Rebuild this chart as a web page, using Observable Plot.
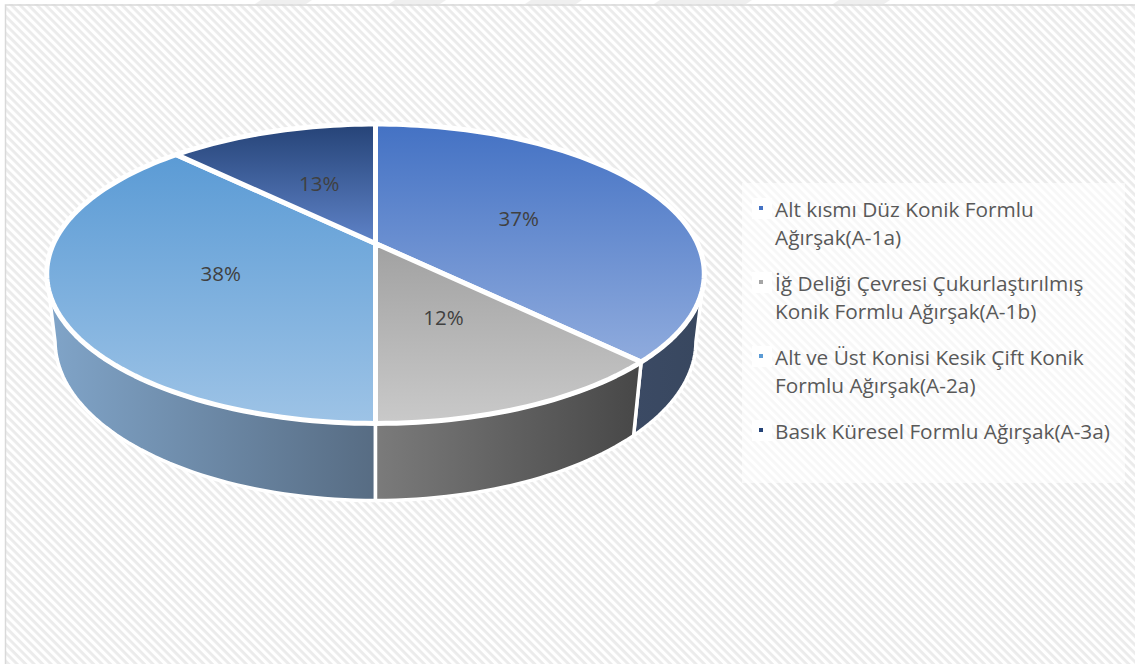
<!DOCTYPE html>
<html lang="tr">
<head>
<meta charset="utf-8">
<script src="https://cdn.jsdelivr.net/npm/d3@7"></script>
<script src="https://cdn.jsdelivr.net/npm/@observablehq/plot@0.6"></script>
<style>
  html, body { margin: 0; padding: 0; background: #fff; }
  #wrap { position: relative; width: 1135px; height: 664px; overflow: hidden; }
  #wrap svg { display: block; max-width: none; }
  #legend { position: absolute; left: 742px; top: 183px; width: 383px; height: 300px; box-sizing: border-box;
    padding: 12px 0 0 33px; background: rgba(255,255,255,0.6);
    font: 20.8px/28px "Open Sans", sans-serif; color: #595959; }
  #legend .item { position: relative; width: 345px; margin-bottom: 18px; }
  #legend .sw { position: absolute; left: -23px; top: 3px; width: 20px; height: 21px; background: #fff; }
  #legend .sw i { position: absolute; left: 7px; top: 8px; width: 4px; height: 4px; }
</style>
</head>
<body>
<div id="wrap"></div>
<script>
// Data
const categories = [
  "Alt kısmı Düz Konik Formlu Ağırşak(A-1a)",
  "İğ Deliği Çevresi Çukurlaştırılmış Konik Formlu Ağırşak(A-1b)",
  "Alt ve Üst Konisi Kesik Çift Konik Formlu Ağırşak(A-2a)",
  "Basık Küresel Formlu Ağırşak(A-3a)"
];
const shares = [37.5, 12.5, 37.5, 12.5];
const percentLabels = ["37%", "12%", "38%", "13%"];
const legendColors = ["#4472c4", "#a5a5a5", "#5b9bd5", "#264478"];

// Style: vertical gradients for the top faces, horizontal for the walls
const topGradients = [
  ["#4472c4", "#8fabdd", 125, 360],
  ["#a1a1a1", "#c9c9c9", 243, 421],
  ["#5b9bd5", "#9dc3e6", 155, 421],
  ["#264478", "#5f83c8", 125, 243]
];
const wallGradients = [
  ["#3b4a64", "#38475f", 635, 700],
  ["#7b7b7b", "#484848", 375, 635],
  ["#80a4c8", "#576c83", 50, 375],
  ["#264478", "#264478", 0, 1]
];

// Perspective of the 3D disc
const tilt = 0.202, depthShrink = 0.025, depthDrop = 0.473;
function project(fraction, radius, h) {
  const a = fraction * 2 * Math.PI;
  const u = radius * Math.sin(a), v = -radius * Math.cos(a);
  const d = 1 - tilt * v + depthShrink * h;
  return {x: u / d, y: (v + depthDrop * h) / d};
}

const total = d3.sum(shares);
const cum = d3.cumsum(shares);
const slices = shares.map((s, i) => ({i, start: (cum[i] - s) / total, end: cum[i] / total}));
function arc(start, end, h) {
  const n = Math.max(8, Math.round((end - start) * 240));
  return d3.range(n + 1).map(j => project(start + (end - start) * j / n, 1, h));
}
function topFace(s) {
  const c = project(0, 0, 0), pts = arc(s.start, s.end, 0);
  return [c, ...pts, c];
}
// The wall is only seen between the two silhouette angles of the disc
const rimFrom = 0.25 + Math.asin(tilt) / (2 * Math.PI), rimTo = 1 - rimFrom;
function wallFace(s) {
  const start = Math.max(s.start, rimFrom), end = Math.min(s.end, rimTo);
  if (end <= start) return [];
  const a = arc(start, end, 0), b = arc(start, end, 1).reverse();
  return [...a, ...b, a[0]];
}

function background(index, scales, values, dims) {
  const g = d3.create("svg:g");
  const defs = g.append("defs");
  const p = defs.append("pattern").attr("id", "hatch").attr("patternUnits", "userSpaceOnUse")
    .attr("width", 6).attr("height", 6).attr("patternTransform", "rotate(45)");
  p.append("rect").attr("width", 6).attr("height", 6).attr("fill", "#fff");
  p.append("rect").attr("width", 6).attr("height", 2.8).attr("fill", "#ebebeb");
  const grad = (id, [c0, c1, a, b], vertical) => {
    const l = defs.append("linearGradient").attr("id", id).attr("gradientUnits", "userSpaceOnUse")
      .attr("x1", vertical ? 0 : a).attr("x2", vertical ? 0 : b)
      .attr("y1", vertical ? a : 0).attr("y2", vertical ? b : 0);
    l.append("stop").attr("offset", 0).attr("stop-color", c0);
    l.append("stop").attr("offset", 1).attr("stop-color", c1);
  };
  topGradients.forEach((t, i) => grad("top" + i, t, true));
  wallGradients.forEach((t, i) => grad("wall" + i, t, false));
  // faint page residue above the chart area
  for (const [a, b] of [[258, 309], [392, 443], [528, 579], [657, 749], [836, 887]]) {
    g.append("path").attr("d", `M${a + 3},0H${b + 3}L${b - 3},4H${a - 3}Z`).attr("fill", "#efefef");
  }
  g.append("rect").attr("x", 5).attr("y", 4).attr("width", dims.width).attr("height", dims.height).attr("fill", "url(#hatch)");
  g.append("path").attr("d", `M5.5,${dims.height}V5H${dims.width}`).attr("fill", "none").attr("stroke", "#d9d9d9").attr("stroke-width", 1.5);
  return g.node();
}

const faceStyle = {x: "x", y: "y", stroke: "#fff", strokeLinejoin: "round"};
const wallOrder = [0, 2, 1];

const chart = Plot.plot({
  width: 1135,
  height: 664,
  margin: 0,
  style: {background: "#fff", fontFamily: "'Open Sans', sans-serif"},
  x: {domain: [-1, 1], range: [53, 697], axis: null},
  y: {domain: [-1, 1], range: [99.4, 386.6], axis: null},
  marks: [
    background,
    ...wallOrder.map(i => Plot.line(wallFace(slices[i]), {...faceStyle, fill: `url(#wall${i})`, strokeWidth: 3.5})),
    ...slices.map(s => Plot.line(topFace(s), {...faceStyle, fill: `url(#top${s.i})`, strokeWidth: 5})),
    Plot.text(slices, {
      x: s => project((s.start + s.end) / 2, 0.5, 0).x,
      y: s => project((s.start + s.end) / 2, 0.5, 0).y,
      text: s => percentLabels[s.i],
      dy: 2,
      fill: "#404040",
      fontSize: 20.5
    })
  ]
});

const wrap = document.getElementById("wrap");
wrap.appendChild(chart);

const legend = d3.select(wrap).append("div").attr("id", "legend");
categories.forEach((c, i) => {
  const item = legend.append("div").attr("class", "item");
  item.append("span").attr("class", "sw").append("i").style("background", legendColors[i]);
  item.append("span").text(c);
});
</script>
</body>
</html>
